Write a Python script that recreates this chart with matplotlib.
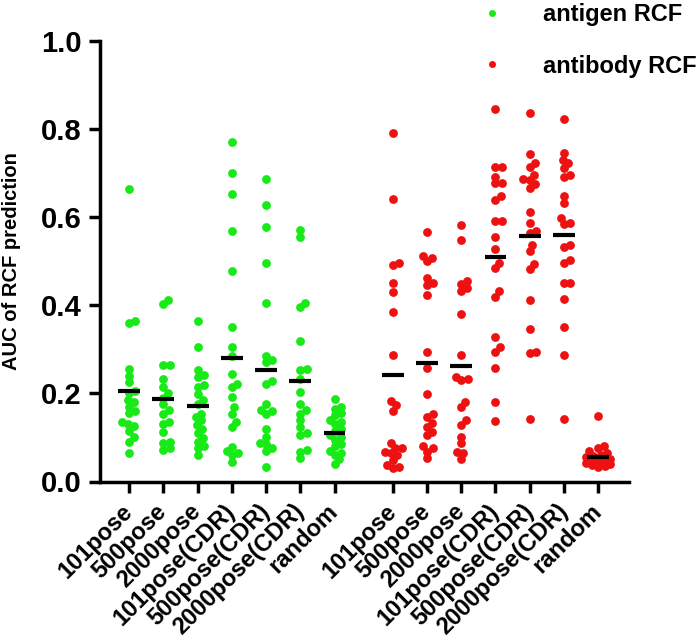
import numpy as np
import matplotlib
matplotlib.use("Agg")
import matplotlib.pyplot as plt
from matplotlib.lines import Line2D

plt.rcParams['font.family'] = ['Liberation Sans', 'DejaVu Sans']
plt.rcParams['font.weight'] = 'bold'

categories = ['101pose', '500pose', '2000pose', '101pose(CDR)',
              '500pose(CDR)', '2000pose(CDR)', 'random']

# antigen RCF (green)
antigen_101 = [0.665, 0.365, 0.36, 0.255, 0.24, 0.225, 0.205, 0.2, 0.185, 0.18,
               0.17, 0.16, 0.155, 0.135, 0.13, 0.125, 0.115, 0.09, 0.065, 0.1]
antigen_500 = [0.413, 0.403, 0.265, 0.265, 0.232, 0.214, 0.2, 0.19, 0.175, 0.162,
               0.154, 0.135, 0.13, 0.113, 0.09, 0.087, 0.075, 0.071]
antigen_2000 = [0.365, 0.306, 0.254, 0.241, 0.237, 0.218, 0.214, 0.198, 0.184, 0.177,
                0.154, 0.147, 0.139, 0.128, 0.098, 0.09, 0.075, 0.06, 0.11, 0.12, 0.08]
antigen_101cdr = [0.77, 0.70, 0.652, 0.568, 0.478, 0.351, 0.305, 0.286, 0.245, 0.222,
                  0.214, 0.192, 0.168, 0.154, 0.135, 0.124, 0.079, 0.064, 0.045, 0.07,
                  0.06]
antigen_500cdr = [0.687, 0.627, 0.577, 0.495, 0.406, 0.286, 0.275, 0.271, 0.222, 0.228,
                  0.177, 0.162, 0.153, 0.16, 0.12, 0.102, 0.087, 0.075, 0.085, 0.07, 0.034]
antigen_2000cdr = [0.555, 0.571, 0.406, 0.396, 0.32, 0.256, 0.252, 0.233, 0.203, 0.177,
                   0.162, 0.154, 0.139, 0.124, 0.109, 0.105, 0.068, 0.071, 0.053]
antigen_random = [0.188, 0.17, 0.165, 0.155, 0.15, 0.14, 0.135, 0.13, 0.12, 0.115,
                  0.105, 0.1, 0.095, 0.085, 0.08, 0.07, 0.065, 0.06, 0.05, 0.04]

# antibody RCF (red)
antibody_101 = [0.792, 0.642, 0.497, 0.491, 0.451, 0.431, 0.385, 0.287, 0.183, 0.173,
                0.16, 0.087, 0.075, 0.075, 0.068, 0.064, 0.06, 0.049, 0.038, 0.034, 0.03]
antibody_500 = [0.567, 0.512, 0.508, 0.5, 0.463, 0.451, 0.446, 0.423, 0.295, 0.258,
                0.199, 0.154, 0.147, 0.132, 0.124, 0.113, 0.105, 0.075, 0.068, 0.053, 0.08]
antibody_2000 = [0.582, 0.548, 0.455, 0.448, 0.44, 0.433, 0.38, 0.287, 0.237, 0.233,
                 0.23, 0.181, 0.169, 0.139, 0.128, 0.102, 0.087, 0.068, 0.064, 0.05]
antibody_101cdr = [0.846, 0.715, 0.715, 0.692, 0.677, 0.677, 0.647, 0.638, 0.592, 0.592,
                   0.554, 0.527, 0.497, 0.485, 0.432, 0.419, 0.329, 0.305, 0.295, 0.258,
                   0.181, 0.138]
antibody_500cdr = [0.837, 0.743, 0.722, 0.713, 0.696, 0.687, 0.685, 0.675, 0.666, 0.612,
                   0.587, 0.568, 0.564, 0.538, 0.524, 0.493, 0.482, 0.412, 0.346, 0.293,
                   0.291, 0.143]
antibody_2000cdr = [0.824, 0.745, 0.73, 0.722, 0.711, 0.696, 0.692, 0.647, 0.632, 0.598,
                    0.587, 0.585, 0.536, 0.533, 0.502, 0.497, 0.451, 0.451, 0.414, 0.351,
                    0.287, 0.143]
antibody_random = [0.148, 0.08, 0.075, 0.07, 0.065, 0.06, 0.058, 0.055, 0.052, 0.05,
                   0.048, 0.046, 0.045, 0.044, 0.043, 0.042, 0.04, 0.038, 0.036, 0.034]

antigen = [antigen_101, antigen_500, antigen_2000, antigen_101cdr,
           antigen_500cdr, antigen_2000cdr, antigen_random]
antibody = [antibody_101, antibody_500, antibody_2000, antibody_101cdr,
            antibody_500cdr, antibody_2000cdr, antibody_random]

green = '#18ea18'
red = '#ee1111'

W, H = 700, 640
fig = plt.figure(figsize=(W / 100, H / 100), dpi=100)
ax = fig.add_axes([100 / W, (H - 481.5) / H, 529 / W, 440.5 / H])

gap = 1.7
pos1 = np.arange(7)
pos2 = np.arange(7) + 6 + gap
xmin, xmax = -0.85, 6 + gap + 6 + 0.9
ax.set_xlim(xmin, xmax)
ax.set_ylim(0, 1.0)

# pixel scales for the swarm layout
xscale = 529 / (xmax - xmin)
yscale = 440.5
dot = 6.5      # collision distance (dots may overlap a bit)
maxoff = 12.0  # half width of a column, pixels


def swarm(vals):
    # simple beeswarm: offsets in pixels
    ys = np.asarray(vals) * yscale
    order = np.argsort(ys)
    offs = np.zeros(len(ys))
    placed = []
    for i in order:
        y = ys[i]
        cands = [0.0]
        for px, py in placed:
            dy = y - py
            if abs(dy) < dot:
                dx = np.sqrt(dot * dot - dy * dy)
                cands += [px + dx, px - dx]
        cands = [c for c in cands if abs(c) <= maxoff]
        cands.sort(key=abs)
        best = None
        for c in cands:
            if all((c - px) ** 2 + (y - py) ** 2 >= dot * dot - 1e-6 for px, py in placed):
                best = c
                break
        if best is None:
            # column full: take the least crowded spot
            grid = np.linspace(-maxoff, maxoff, 9)
            best = max(grid, key=lambda c: min([(c - px) ** 2 + (y - py) ** 2
                                                for px, py in placed] or [1e9]))
        placed.append((best, y))
        offs[i] = best
    return offs / xscale


for data, positions, col in [(antigen, pos1, green), (antibody, pos2, red)]:
    for vals, p in zip(data, positions):
        xs = p + swarm(vals)
        ax.scatter(xs, vals, s=40, color=col, linewidths=0, zorder=2, clip_on=False)
        m = np.mean(vals)
        ax.hlines(m, p - 0.32, p + 0.32, color='black', lw=3, zorder=3)

ax.spines['top'].set_visible(False)
ax.spines['right'].set_visible(False)
ax.spines['left'].set_linewidth(2.5)
ax.spines['bottom'].set_linewidth(2.5)

ax.set_yticks([0, 0.2, 0.4, 0.6, 0.8, 1.0])
ax.set_yticklabels(['0.0', '0.2', '0.4', '0.6', '0.8', '1.0'], fontsize=21, fontweight='bold')
ax.tick_params(axis='both', direction='out', length=8, width=2.5, pad=5)

ax.set_xticks(np.concatenate([pos1, pos2]))
ax.set_xticklabels(categories + categories, rotation=45, ha='right', va='center',
                   rotation_mode='anchor', fontsize=17, fontweight='bold')
ax.tick_params(axis='x', pad=11)

ax.set_ylabel('AUC of RCF prediction', fontsize=14.5, fontweight='bold')
ax.yaxis.set_label_coords(-0.149, 0.5)

handles = [Line2D([], [], marker='o', ls='', ms=5, color=green, mec='none'),
           Line2D([], [], marker='o', ls='', ms=5, color=red, mec='none')]
fig.legend(handles, ['antigen RCF', 'antibody RCF'], loc='upper left',
           bbox_to_anchor=(480 / W, 0.995), frameon=False,
           handlelength=1.0, handletextpad=1.66, labelspacing=1.2,
           borderpad=0, borderaxespad=0, prop={'weight': 'bold', 'size': 17})

fig.savefig('out.png', dpi=100)
